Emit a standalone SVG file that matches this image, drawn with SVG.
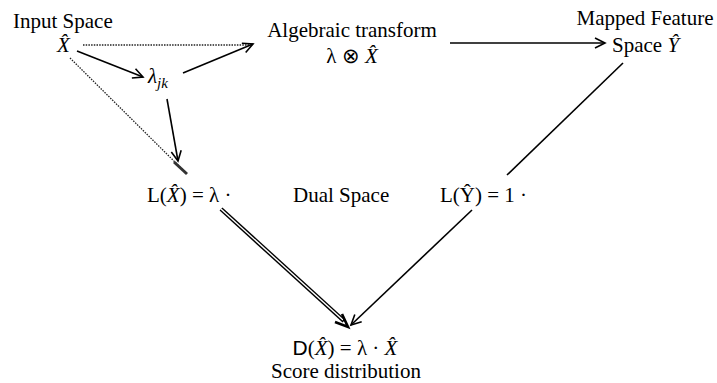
<svg xmlns="http://www.w3.org/2000/svg" width="717" height="383" viewBox="0 0 717 383">
<style>
.m{font-style:italic}
.c{text-anchor:middle}
.ln{stroke:#000;stroke-width:1.6;fill:none}
.dot{stroke:#222;stroke-width:1.3;stroke-dasharray:1.5 1.2;fill:none}
</style>
<defs>
<marker id="ah" markerWidth="14" markerHeight="12" refX="11" refY="6" orient="auto" markerUnits="userSpaceOnUse">
<path d="M1,1 L11,6 L1,11" fill="none" stroke="#000" stroke-width="1.6"/>
</marker>
</defs>
<rect width="717" height="383" fill="#fff"/>
<g id="connectors">
<line class="dot" x1="83" y1="45" x2="250" y2="45"/>
<line class="ln" x1="77" y1="51" x2="143" y2="77" marker-end="url(#ah)"/>
<line class="ln" x1="183" y1="73" x2="253" y2="44" marker-end="url(#ah)"/>
<line class="ln" x1="167" y1="99" x2="178" y2="161" marker-end="url(#ah)"/>
<line class="dot" x1="70" y1="58" x2="187" y2="174"/>
<line x1="174" y1="162" x2="187" y2="174" stroke="#333" stroke-width="3"/>
<line class="ln" x1="450" y1="43" x2="605" y2="43" marker-end="url(#ah)"/>
<line class="ln" x1="623" y1="63" x2="507" y2="175"/>
<line x1="221" y1="209" x2="344" y2="321" stroke="#000" stroke-width="4.2"/>
<line x1="221" y1="209" x2="343" y2="320" stroke="#fff" stroke-width="1.4"/>
<path d="M335,322 L348,327 L342,314" fill="none" stroke="#000" stroke-width="2.6"/>
<line class="ln" x1="472" y1="210" x2="351" y2="325" marker-end="url(#ah)"/>
</g>
<g font-family="Liberation Serif" font-size="21" fill="#000">
<g id="input-space">
<text font-family="Liberation Serif" x="13" y="28">Input Space</text>
<text font-family="Liberation Serif" class="m" x="57" y="52">X̂</text>
</g>
<g id="lambda-jk">
<text font-family="Liberation Serif" class="m" x="148" y="83">λ<tspan font-size="15" dy="5">jk</tspan></text>
</g>
<g id="algebraic-transform">
<text font-family="Liberation Serif" class="c" x="352" y="37">Algebraic transform</text>
<text font-family="Liberation Serif" class="c" x="352" y="63">λ ⊗ <tspan class="m">X̂</tspan></text>
</g>
<g id="mapped-feature">
<text font-family="Liberation Serif" class="c" x="645" y="25">Mapped Feature</text>
<text font-family="Liberation Serif" x="612" y="52">Space <tspan class="m">Ŷ</tspan></text>
</g>
<g id="l-x">
<text font-family="Liberation Serif" x="147" y="202">L(<tspan class="m">X̂</tspan>) = λ ·</text>
</g>
<g id="dual-space">
<text font-family="Liberation Serif" x="293" y="202">Dual Space</text>
</g>
<g id="l-y">
<text font-family="Liberation Serif" x="440" y="202">L(Ŷ) = 1 ·</text>
</g>
<g id="score">
<text font-family="Liberation Serif" class="c" x="345" y="355"><tspan font-family="Liberation Sans">D</tspan>(<tspan class="m">X̂</tspan>) = λ · <tspan class="m">X̂</tspan></text>
<text font-family="Liberation Serif" class="c" x="346" y="378">Score distribution</text>
</g>
</g>
</svg>
